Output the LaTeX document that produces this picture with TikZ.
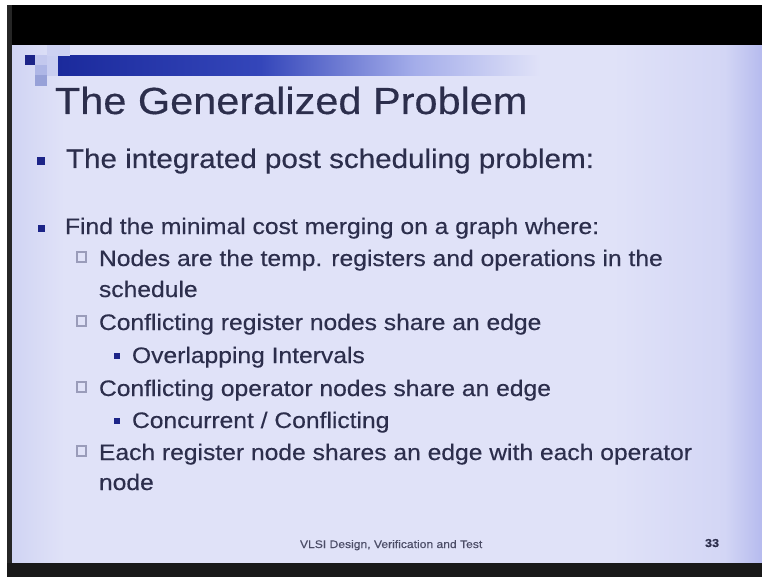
\documentclass[tikz,border=0pt]{standalone}
\usepackage{fontspec}
\setmainfont[FakeStretch=1.1,FakeBold=0.4]{Liberation Sans}
\definecolor{txt}{HTML}{2C2E4C}
\definecolor{navy}{HTML}{1C2488}
\definecolor{bgA}{HTML}{D0D4F3}
\definecolor{bgB}{HTML}{E0E2F8}
\definecolor{bgC}{HTML}{D3D6F5}
\definecolor{bgD}{HTML}{B6BBEE}
\definecolor{barA}{HTML}{1B2A9C}
\definecolor{barB}{HTML}{3446BA}
\definecolor{barC}{HTML}{A4ADEA}
\definecolor{boxgray}{HTML}{9A9CBA}
\definecolor{sqA}{HTML}{C3C8EE}
\definecolor{sqB}{HTML}{CDD1F2}
\definecolor{sqC}{HTML}{C9CEF1}
\definecolor{sqD}{HTML}{AEB6E6}
\definecolor{sqE}{HTML}{97A1D8}
\pgfdeclarehorizontalshading{slidebg}{100bp}{color(0bp)=(bgA); color(25bp)=(bgA); color(28.5bp)=(bgB); color(65bp)=(bgB); color(72.5bp)=(bgC); color(75bp)=(bgD); color(100bp)=(bgD)}
\pgfdeclarehorizontalshading{barshade}{100bp}{color(0bp)=(barA); color(25bp)=(barA); color(46bp)=(barB); color(62bp)=(barC); color(75bp)=(bgB); color(100bp)=(bgB)}
\tikzset{
  txtnode/.style={inner sep=0pt, outer sep=0pt, anchor=base west, text=txt},
  titlefont/.style={txtnode, font=\fontsize{37.7}{44}\selectfont},
  lvlone/.style={txtnode, font=\fontsize{26.9}{31}\selectfont},
  lvltwo/.style={txtnode, font=\fontsize{22.4}{26}\selectfont},
  footfont/.style={txtnode, font=\fontsize{11}{13}\selectfont, text=txt!85!white},
  bulfill/.style={fill=navy},
  bulbox/.style={draw=boxgray, line width=1.1pt}
}
\begin{document}
\begin{tikzpicture}[x=1pt,y=-1pt]
\useasboundingbox (0,0) rectangle (762,577);
\fill[white] (0,0) rectangle (762,577);
% slide
\shade[shading=slidebg] (12,45) rectangle (762,563);
% frame
\fill[black] (7,5) rectangle (762,45);
\fill[black!85] (7,5) rectangle (12,577);
\fill[black!90] (7,563) rectangle (762,577);
% decoration squares and bar
\shade[shading=barshade] (58,56) rectangle (540,76);
\fill[navy] (25,55) rectangle (35,65);
\fill[sqA] (35,55) rectangle (47,65);
\fill[sqB] (47,45) rectangle (70,56);
\fill[sqC] (47,56) rectangle (58,76);
\fill[sqD] (35,65) rectangle (47,75);
\fill[sqE] (35,75) rectangle (47,86);
% title
\node[titlefont] (title) at (55,114) {The Generalized Problem};
% level one
\fill[bulfill] (37,157) rectangle (45,165);
\node[lvlone] (b1) at (66,168) {The integrated post scheduling problem:};
\fill[bulfill] (38,225) rectangle (45,232);
\node[lvltwo] (b2) at (65,234) {Find the minimal cost merging on a graph where:};
% level two
\draw[bulbox] (77,252) rectangle (86,262);
\node[lvltwo] (s1) at (99,266) {Nodes are the temp. registers and operations in the};
\node[lvltwo] (s1b) at (99,297) {schedule};
\draw[bulbox] (77,316) rectangle (86,326);
\node[lvltwo] (s2) at (99,330) {Conflicting register nodes share an edge};
\fill[bulfill] (114,353) rectangle (120,359);
\node[lvltwo] (t1) at (132,363) {Overlapping Intervals};
\draw[bulbox] (77,382) rectangle (86,392);
\node[lvltwo] (s3) at (99,396) {Conflicting operator nodes share an edge};
\fill[bulfill] (114,418) rectangle (120,424);
\node[lvltwo] (t2) at (132,428) {Concurrent / Conflicting};
\draw[bulbox] (77,446) rectangle (86,456);
\node[lvltwo] (s4) at (99,460) {Each register node shares an edge with each operator};
\node[lvltwo] (s4b) at (99,490) {node};
% footer
\node[footfont] (foot) at (300,548) {VLSI Design, Verification and Test};
\node[footfont, font=\fontsize{11.5}{13}\selectfont\bfseries, text=txt] (num) at (705,547) {33};
\end{tikzpicture}
\end{document}
